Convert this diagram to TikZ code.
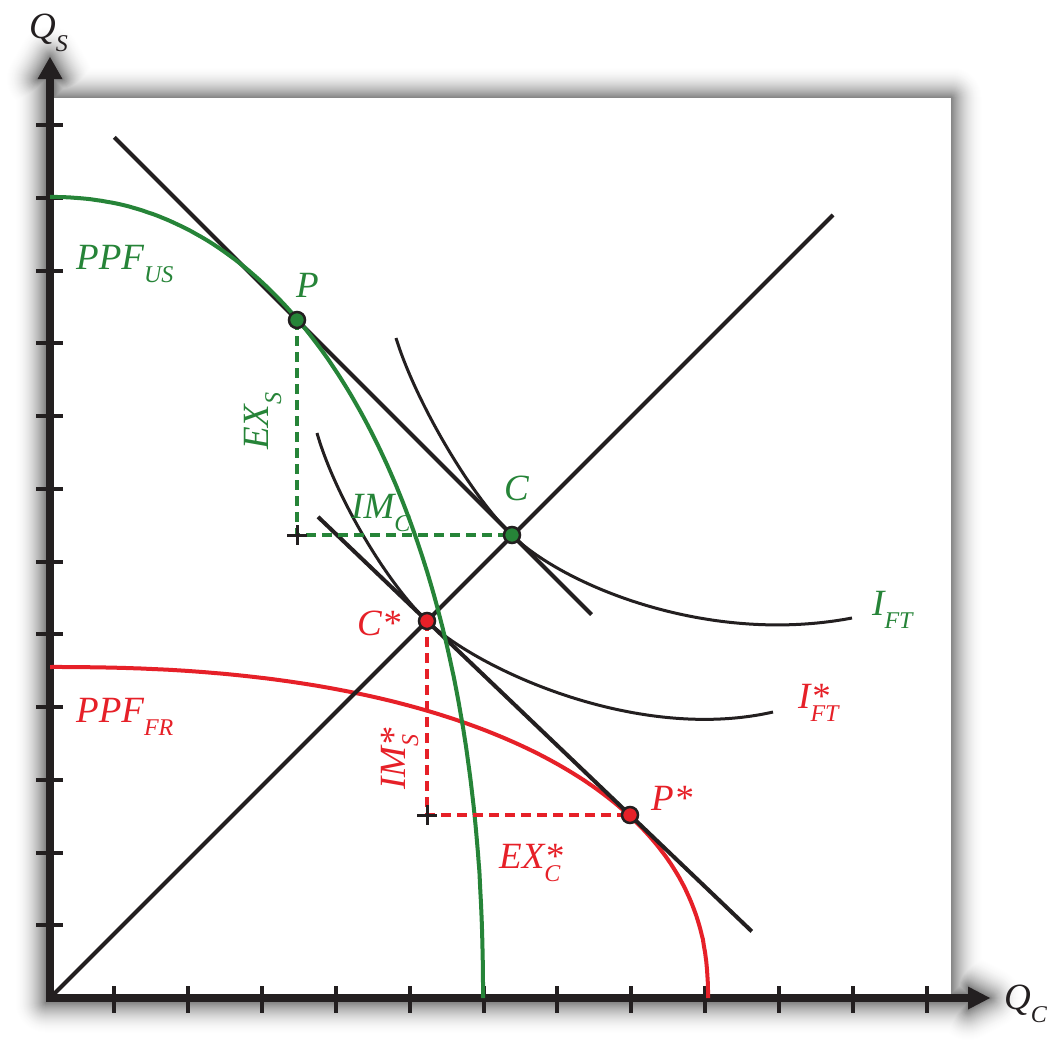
\documentclass[tikz,border=0pt]{standalone}
\usepackage{fontspec}
\setmainfont{Liberation Serif}
\usetikzlibrary{calc}
\definecolor{pgreen}{RGB}{38,132,56}
\definecolor{pred}{RGB}{230,32,40}
\definecolor{ink}{RGB}{35,31,32}
\newcommand{\lsub}[1]{\raisebox{-13pt}{\fontsize{24}{24}\selectfont #1}}
\newcommand{\lsupsub}[2]{\rlap{#1}\raisebox{-13pt}{\fontsize{24}{24}\selectfont #2}}
\begin{document}
\begin{tikzpicture}[x=1pt,y=-1pt,
  axisline/.style={line width=8pt, draw=ink},
  tickline/.style={line width=4pt, draw=ink},
  blk/.style={line width=4pt, draw=ink},
  indiff/.style={line width=3pt, draw=ink},
  ppfg/.style={line width=4pt, draw=pgreen},
  ppfr/.style={line width=4pt, draw=pred},
  dashg/.style={line width=4pt, draw=pgreen, dash pattern=on 10pt off 6pt},
  dashr/.style={line width=4pt, draw=pred, dash pattern=on 10pt off 6pt},
  plusline/.style={line width=3pt, draw=ink},
  dotg/.style={circle, fill=pgreen, draw=ink, line width=2.5pt, minimum size=16pt, inner sep=0pt},
  dotr/.style={circle, fill=pred, draw=ink, line width=2.5pt, minimum size=16pt, inner sep=0pt},
  lbl/.style={font=\fontsize{37}{40}\selectfont\itshape, inner sep=0pt, anchor=base west},
  lblg/.style={lbl, text=pgreen},
  lblr/.style={lbl, text=pred},
  lblk/.style={lbl, text=ink}]
\useasboundingbox (0,0) rectangle (1052,1050);
% soft shadow
\foreach \k in {32,31,...,1}{
  \pgfmathsetmacro\dd{50*(1-\k/33)^2}
  \pgfmathsetmacro\lw{2*\k}
  \filldraw[draw=black!\dd!white, fill=black!\dd!white, line width=\lw pt, line join=round]
    (50,57) -- (62.5,79) -- (54,79) -- (54,98) -- (951,98) -- (951,994) -- (968,994)
    -- (968,986.5) -- (990,998) -- (968,1009.5) -- (968,1002) -- (46,1002) -- (46,79)
    -- (37.5,79) -- cycle;
}
\fill[white] (54,98) rectangle (951,994);
% coordinates
\coordinate (O) at (50,998);
\coordinate (ytip) at (50,57);
\coordinate (xtip) at (990,998);
\coordinate (ybase) at (50,76);
\coordinate (xbase) at (971,998);
\coordinate (P) at (297,320);
\coordinate (C) at (512,535);
\coordinate (Cs) at (427,621);
\coordinate (Ps) at (630,815);
\coordinate (diagEnd) at (833,215);
\coordinate (plusG) at (P |- C);
\coordinate (plusR) at (Cs |- Ps);
% axes
\draw[axisline, line join=miter] (ybase) -- (O) -- (xbase);
\fill[ink] (ytip) -- ++(12.5,22) -- ++(-25,0) -- cycle;
\fill[ink] (xtip) -- ++(-22,-11.5) -- ++(0,23) -- cycle;
\foreach \i in {1,...,12}{
  \draw[tickline] (36,{998-72.75*\i}) -- (63,{998-72.75*\i});
}
\foreach \i in {0,...,11}{
  \draw[tickline] ({114+73.9*\i},986) -- ({114+73.9*\i},1013);
}
% red PPF
\draw[ppfr] plot[domain=0.001:89.999, samples=140, smooth, variable=\t]
  ({50+658*pow(cos(\t),0.870)}, {998-331*pow(sin(\t),0.870)});
% black lines
\draw[blk] (O) -- (diagEnd);
\draw[blk] ($(P)!-0.85!(C)$) -- ($(P)!1.37!(C)$);
\draw[blk] ($(Cs)!-0.537!(Ps)$) -- ($(Cs)!1.6!(Ps)$);
% indifference curves
\draw[indiff] ($(C)+(-116,-197)$) .. controls ($(C)+(-97,-135)$) and ($(C)+(-42,-40)$) .. (C)
  .. controls ($(C)+(48,48)$) and ($(C)+(193,111)$) .. ($(C)+(340,83)$);
\draw[indiff] ($(Cs)+(-110,-188)$) .. controls ($(Cs)+(-93,-128)$) and ($(Cs)+(-42,-40)$) .. (Cs)
  .. controls ($(Cs)+(50,48)$) and ($(Cs)+(210,122)$) .. ($(Cs)+(346,91)$);
% green PPF
\draw[ppfg] plot[domain=0.001:89.999, samples=140, smooth, variable=\t]
  ({50+433*pow(cos(\t),0.930)}, {998-801*pow(sin(\t),0.930)});
% dashed trade triangles
\draw[dashg] (P) -- (plusG) -- (C);
\draw[dashr] (Cs) -- (plusR) -- (Ps);
\draw[plusline] ($(plusG)+(-10,0)$) -- ($(plusG)+(10,0)$) ($(plusG)+(0,-10)$) -- ($(plusG)+(0,10)$);
\draw[plusline] ($(plusR)+(-10,0)$) -- ($(plusR)+(10,0)$) ($(plusR)+(0,-10)$) -- ($(plusR)+(0,10)$);
% dots
\node[dotg] (Pdot) at (P) {};
\node[dotg] (Cdot) at (C) {};
\node[dotr] (Csdot) at (Cs) {};
\node[dotr] (Psdot) at (Ps) {};
% labels
\node[lblk] (QS) at (29,38) {Q\lsub{S}};
\node[lblk] (QC) at (1004,1009) {Q\lsub{C}};
\node[lblg] (PPFUS) at (76,269) {PPF\lsub{US}};
\node[lblg] (Plbl) at (296,297) {P};
\node[lblg] (Clbl) at (504,500) {C};
\node[lblg] (IMC) at (351,518) {IM\lsub{C}};
\node[lblg, rotate=90] (EXS) at (268,450) {EX\lsub{S}};
\node[lblg] (IFT) at (872,615) {I\lsub{FT}};
\node[lblr] (Cslbl) at (357,635) {C*};
\node[lblr] (Pslbl) at (651,810) {P*};
\node[lblr] (EXC) at (499,868) {EX\lsupsub{*}{C}};
\node[lblr, rotate=90] (IMS) at (405,790) {IM\lsupsub{*}{S}};
\node[lblr] (IsFT) at (798,708) {I\lsupsub{*}{FT}};
\node[lblr] (PPFFR) at (76,722) {PPF\lsub{FR}};
\end{tikzpicture}
\end{document}
